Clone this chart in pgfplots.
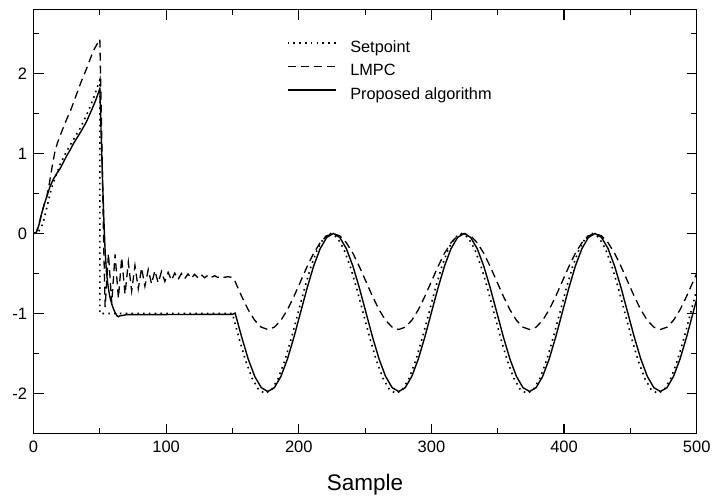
\documentclass[border=0pt]{standalone}
\usepackage{fontspec}
\setmainfont{Liberation Sans}
\usepackage{pgfplots}
\pgfplotsset{compat=1.18}
\usepackage{pgfplotstable}

% setpoint
\pgfplotstableread{
x y
0 0
4 0.03
7 0.12
10 0.32
12.5 0.5
15 0.64
20 0.86
25 1.03
30 1.17
35 1.31
40 1.48
45 1.68
50 1.92
50 -1
150.00 -1
154.93 -1.309
159.87 -1.588
164.80 -1.809
169.73 -1.951
174.67 -2
179.60 -1.951
184.53 -1.809
189.46 -1.588
194.40 -1.309
199.33 -1
204.26 -0.691
209.20 -0.412
214.13 -0.191
219.06 -0.049
224.00 0
228.93 -0.049
233.86 -0.191
238.79 -0.412
243.73 -0.691
248.66 -1
253.59 -1.309
258.53 -1.588
263.46 -1.809
268.39 -1.951
273.33 -2
278.26 -1.951
283.19 -1.809
288.12 -1.588
293.06 -1.309
297.99 -1
302.92 -0.691
307.86 -0.412
312.79 -0.191
317.72 -0.049
322.66 0
327.59 -0.049
332.52 -0.191
337.45 -0.412
342.39 -0.691
347.32 -1
352.25 -1.309
357.19 -1.588
362.12 -1.809
367.05 -1.951
371.99 -2
376.92 -1.951
381.85 -1.809
386.78 -1.588
391.72 -1.309
396.65 -1
401.58 -0.691
406.52 -0.412
411.45 -0.191
416.38 -0.049
421.32 0
426.25 -0.049
431.18 -0.191
436.11 -0.412
441.05 -0.691
445.98 -1
450.91 -1.309
455.85 -1.588
460.78 -1.809
465.71 -1.951
470.65 -2
475.58 -1.951
480.51 -1.809
485.44 -1.588
490.38 -1.309
495.31 -1
500 -0.706
}\setpt

% LMPC
\pgfplotstableread{
x y
0 0
2 0.01
4 0.1
6 0.24
8 0.36
10 0.46
12 0.63
14 0.83
16 1.01
18 1.13
20 1.22
24 1.39
28 1.54
32 1.72
36 1.9
40 2.06
45 2.28
50 2.43
51 1.6
52 0.7
53 -0.2
54 -0.92
56.5 -0.25
59 -0.87
61.5 -0.26
64 -0.81
66.5 -0.3
69 -0.76
71.5 -0.36
74 -0.72
76.5 -0.4
79 -0.69
81.5 -0.43
84 -0.66
86.5 -0.45
89 -0.63
91.5 -0.465
94 -0.615
96.5 -0.475
99 -0.6
101.5 -0.485
104 -0.585
106.5 -0.495
109 -0.575
111.5 -0.5
114 -0.565
116.5 -0.505
119 -0.56
121.5 -0.51
124 -0.555
126.5 -0.515
129 -0.553
131.5 -0.522
134 -0.55
136.5 -0.528
139 -0.549
141.5 -0.533
144 -0.548
146.5 -0.54
149 -0.547
152.00 -0.6
156.93 -0.785
161.87 -0.953
166.80 -1.085
171.73 -1.171
176.67 -1.2
181.60 -1.171
186.53 -1.085
191.46 -0.953
196.40 -0.785
201.33 -0.6
206.26 -0.415
211.20 -0.247
216.13 -0.115
221.06 -0.029
226.00 0
230.93 -0.029
235.86 -0.115
240.79 -0.247
245.73 -0.415
250.66 -0.6
255.59 -0.785
260.53 -0.953
265.46 -1.085
270.39 -1.171
275.33 -1.2
280.26 -1.171
285.19 -1.085
290.12 -0.953
295.06 -0.785
299.99 -0.6
304.92 -0.415
309.86 -0.247
314.79 -0.115
319.72 -0.029
324.66 0
329.59 -0.029
334.52 -0.115
339.45 -0.247
344.39 -0.415
349.32 -0.6
354.25 -0.785
359.19 -0.953
364.12 -1.085
369.05 -1.171
373.99 -1.2
378.92 -1.171
383.85 -1.085
388.78 -0.953
393.72 -0.785
398.65 -0.6
403.58 -0.415
408.52 -0.247
413.45 -0.115
418.38 -0.029
423.32 0
428.25 -0.029
433.18 -0.115
438.11 -0.247
443.05 -0.415
447.98 -0.6
452.91 -0.785
457.85 -0.953
462.78 -1.085
467.71 -1.171
472.65 -1.2
477.58 -1.171
482.51 -1.085
487.44 -0.953
492.38 -0.785
497.31 -0.6
500 -0.498
}\lmpc

% proposed algorithm
\pgfplotstableread{
x y
0 0
2 0.01
4 0.1
6 0.24
8 0.36
10 0.46
12.5 0.59
15 0.68
17.5 0.75
20 0.81
22.5 0.89
25 0.97
27.5 1.04
30 1.12
33 1.2
36 1.28
40 1.4
44 1.55
47 1.67
50 1.81
51 1.25
52 0.7
53 0.2
54 -0.22
55 -0.48
56 -0.63
57 -0.74
58 -0.82
59 -0.88
60 -0.93
61 -0.97
62 -1.0
63 -1.03
64 -1.04
65 -1.03
67 -1.025
70 -1.015
150 -1.01
152.00 -0.995
156.93 -1.293
161.87 -1.569
166.80 -1.787
171.73 -1.927
176.67 -1.975
181.60 -1.927
186.53 -1.787
191.46 -1.569
196.40 -1.293
201.33 -0.988
206.26 -0.683
211.20 -0.407
216.13 -0.189
221.06 -0.049
226.00 0
230.93 -0.049
235.86 -0.189
240.79 -0.407
245.73 -0.683
250.66 -0.988
255.59 -1.293
260.53 -1.569
265.46 -1.787
270.39 -1.927
275.33 -1.975
280.26 -1.927
285.19 -1.787
290.12 -1.569
295.06 -1.293
299.99 -0.988
304.92 -0.683
309.86 -0.407
314.79 -0.189
319.72 -0.049
324.66 0
329.59 -0.049
334.52 -0.189
339.45 -0.407
344.39 -0.683
349.32 -0.988
354.25 -1.293
359.19 -1.569
364.12 -1.787
369.05 -1.927
373.99 -1.975
378.92 -1.927
383.85 -1.787
388.78 -1.569
393.72 -1.293
398.65 -0.988
403.58 -0.683
408.52 -0.407
413.45 -0.189
418.38 -0.049
423.32 0
428.25 -0.049
433.18 -0.189
438.11 -0.407
443.05 -0.683
447.98 -0.988
452.91 -1.293
457.85 -1.569
462.78 -1.787
467.71 -1.927
472.65 -1.975
477.58 -1.927
482.51 -1.787
487.44 -1.569
492.38 -1.293
497.31 -0.988
500 -0.82
}\prop

\begin{document}
\begin{tikzpicture}
\useasboundingbox (-33.5pt,-64.5pt) rectangle (680.5pt,433.5pt);
\begin{axis}[
  at={(0pt,0pt)}, anchor=south west,
  scale only axis, width=663.2pt, height=424pt,
  xmin=0, xmax=500, ymin=-2.5, ymax=2.8,
  xtick={0,100,...,500}, ytick={-2,-1,0,1,2},
  minor xtick={50,150,250,350,450},
  minor ytick={-2.5,-1.5,-0.5,0.5,1.5,2.5},
  tick pos=both, tick align=inside,
  major tick length=10pt, minor tick length=5.5pt,
  axis line style={line width=1.5pt},
  every tick/.style={black, line width=1.2pt},
  /pgf/number format/assume math mode=true,
  ticklabel style={font=\fontsize{16.5}{18}\selectfont},
  yticklabel style={xshift=-3pt},
  xticklabel style={yshift=-4pt},
  xlabel={Sample},
  xlabel style={font=\fontsize{22.5}{22.5}\selectfont, at={(rel axis cs:0.5,0)}, anchor=base, yshift=-57pt},
  legend cell align=left,
  legend image code/.code={\draw[#1] (0pt,5.5pt) -- (48pt,5.5pt);},
  legend style={draw=none, fill=none, at={(rel axis cs:0.3818,0.927)}, anchor=north west,
    inner sep=0pt, outer sep=0pt, row sep=7.5pt, column sep=14pt,
    font=\fontsize{16.3}{16.3}\selectfont,
    nodes={inner sep=0pt, text height=12pt, text depth=4pt}},
]
\addplot[black, line width=1.6pt, line cap=butt, dash pattern=on 1.6pt off 4.2pt] table {\setpt};
\addlegendentry{Setpoint}
\addplot[black, line width=1.3pt, dash pattern=on 8pt off 5pt] table {\lmpc};
\addlegendentry{LMPC}
\addplot[black, line width=1.4pt] table {\prop};
\addlegendentry{Proposed algorithm}
\end{axis}
\end{tikzpicture}
\end{document}
